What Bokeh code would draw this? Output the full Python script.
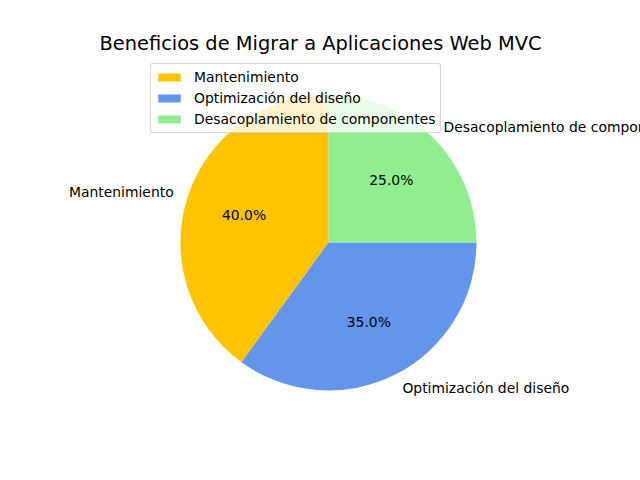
import numpy as np
from bokeh.plotting import figure
from bokeh.models import Range1d, Legend, LegendItem, ColumnDataSource, Label
from bokeh.core.properties import value
from bokeh.embed import file_html
from bokeh.resources import INLINE

title = "Beneficios de Migrar a Aplicaciones Web MVC"
categories = ["Mantenimiento", "Optimización del diseño", "Desacoplamiento de componentes"]
values = [40, 35, 25]
colors = ["#FFC300", "#6495ED", "#90EE90"]

W, H = 640, 480
cx, cy, r = 328, 480 - 242, 148
FONT = "DejaVu Sans"
FS = "13.9px"

p = figure(width=W, height=H, output_backend="svg", toolbar_location=None,
           x_range=Range1d(0, W), y_range=Range1d(0, H), min_border=0,
           outline_line_color=None, match_aspect=False)
p.axis.visible = False
p.grid.visible = False
p.background_fill_color = "white"
p.border_fill_color = "white"

vals = np.array(values, dtype=float)
frac = vals / vals.sum()
start = np.pi / 2 + 2 * np.pi * np.concatenate([[0], np.cumsum(frac)[:-1]])
end = start + 2 * np.pi * frac
mid = (start + end) / 2

src = ColumnDataSource(dict(start=start, end=end, color=colors))
p.wedge(x=cx, y=cy, radius=r, start_angle="start", end_angle="end",
        fill_color="color", line_color=None, direction="anticlock", source=src)

# outer labels
lx = cx + 1.1 * r * np.cos(mid)
ly = cy + 1.1 * r * np.sin(mid)
align = ["right" if x < cx else "left" for x in lx]
p.text(x=lx, y=ly, text=categories, text_align=align, text_baseline="middle",
       text_font=value(FONT), text_font_size=FS, text_color="black")

# percent labels
px = cx + 0.6 * r * np.cos(mid)
py = cy + 0.6 * r * np.sin(mid)
pct = [f"{f*100:.1f}%" for f in frac]
p.text(x=px, y=py, text=pct, text_align="center", text_baseline="middle",
       text_font=value(FONT), text_font_size=FS, text_color="black")

# title
p.add_layout(Label(x=W / 2, y=H - 43, text=title, text_align="center",
                   text_baseline="middle", text_font=FONT, text_font_size="19.4px",
                   text_color="black"))

# legend with rectangular handles (dummy off-canvas quads)
items = []
for cat, col in zip(categories, colors):
    rr = p.quad(left=[-30], right=[-20], top=[-20], bottom=[-30],
                fill_color=col, line_color=None)
    items.append(LegendItem(label=cat, renderers=[rr]))
legend = Legend(items=items, location=(150, H - 133), orientation="vertical",
                padding=4, spacing=3, label_height=18, glyph_height=10, glyph_width=28,
                label_standoff=11, margin=0,
                label_text_font=FONT, label_text_font_size=FS,
                label_text_color="black",
                background_fill_color="white", background_fill_alpha=0.8,
                border_line_color="#cccccc", border_line_alpha=0.8, border_line_width=1,
                border_radius=3)
p.add_layout(legend, "center")

open("out.html", "w").write(file_html(p, INLINE))
